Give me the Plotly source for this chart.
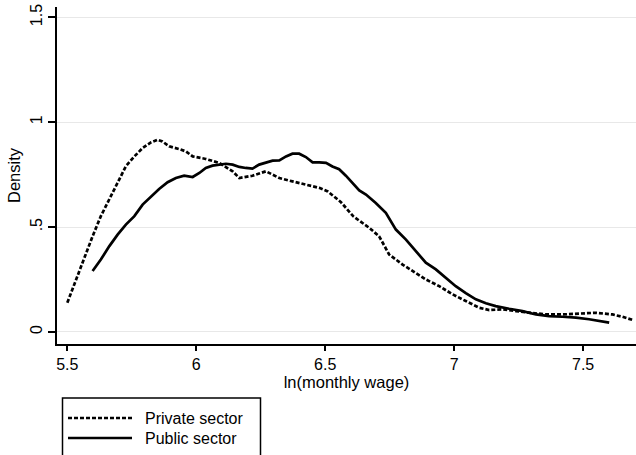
import plotly.graph_objects as go

# Kernel density of ln(monthly wage)
private_x = [5.50, 5.534, 5.566, 5.598, 5.630, 5.663, 5.695, 5.727, 5.76, 5.792, 5.824, 5.85, 5.869,
             5.895, 5.934, 5.96, 5.986, 6.037, 6.089, 6.141, 6.167, 6.218, 6.27, 6.322, 6.373, 6.425,
             6.477, 6.51, 6.56, 6.61, 6.671, 6.709, 6.748, 6.80, 6.851, 6.89, 6.942, 6.994, 7.045,
             7.097, 7.136, 7.187, 7.239, 7.291, 7.355, 7.42, 7.484, 7.549, 7.614, 7.652, 7.691]
private_y = [0.139, 0.25, 0.361, 0.456, 0.552, 0.631, 0.710, 0.790, 0.837, 0.877, 0.904, 0.917, 0.908,
             0.885, 0.872, 0.861, 0.837, 0.825, 0.806, 0.766, 0.734, 0.745, 0.766, 0.734, 0.718, 0.702,
             0.687, 0.67, 0.62, 0.55, 0.496, 0.456, 0.369, 0.321, 0.282, 0.25, 0.218, 0.179, 0.147,
             0.115, 0.104, 0.107, 0.099, 0.091, 0.083, 0.083, 0.088, 0.091, 0.083, 0.072, 0.057]

public_x = [5.598, 5.630, 5.663, 5.695, 5.727, 5.76, 5.792, 5.824, 5.856, 5.889, 5.921, 5.953, 5.986,
            6.012, 6.037, 6.063, 6.089, 6.115, 6.141, 6.167, 6.192, 6.218, 6.244, 6.27, 6.296, 6.322,
            6.348, 6.373, 6.399, 6.425, 6.451, 6.477, 6.503, 6.528, 6.554, 6.58, 6.606, 6.632, 6.658,
            6.696, 6.735, 6.774, 6.813, 6.851, 6.89, 6.929, 6.968, 7.006, 7.045, 7.084, 7.123, 7.161,
            7.213, 7.265, 7.317, 7.368, 7.42, 7.472, 7.523, 7.562, 7.601]
public_y = [0.290, 0.345, 0.409, 0.464, 0.512, 0.552, 0.607, 0.647, 0.682, 0.714, 0.734, 0.745, 0.739,
            0.758, 0.782, 0.793, 0.798, 0.802, 0.798, 0.787, 0.782, 0.779, 0.798, 0.809, 0.817, 0.818,
            0.837, 0.850, 0.850, 0.834, 0.809, 0.809, 0.806, 0.789, 0.776, 0.745, 0.71, 0.675, 0.655,
            0.615, 0.568, 0.488, 0.440, 0.385, 0.33, 0.298, 0.258, 0.218, 0.185, 0.155, 0.136, 0.123,
            0.110, 0.099, 0.083, 0.075, 0.072, 0.068, 0.060, 0.053, 0.044]

series_names = ["Private sector", "Public sector"]
series_dash = ["4px,2px", "solid"]

x_ticks = [5.5, 6, 6.5, 7, 7.5]
x_tick_labels = ["5.5", "6", "6.5", "7", "7.5"]
y_ticks = [0, 0.5, 1, 1.5]
y_tick_labels = ["0", ".5", "1", "1.5"]

FONT = "Liberation Sans, Arial, sans-serif"
W, H = 636, 455
ML, MR, MT, MB = 57, 0, 7, 111
PW, PH = W - ML - MR, H - MT - MB


def px_to_paper(px, py):
    return (px - ML) / PW, (H - MB - py) / PH


fig = go.Figure()
for name, xs, ys, dash in zip(series_names, [private_x, public_x], [private_y, public_y], series_dash):
    fig.add_trace(go.Scatter(x=xs, y=ys, mode="lines", name=name, showlegend=False,
                             line=dict(color="black", width=2.7, dash=dash)))

# Legend box (Stata-style, drawn below the plot)
shapes = []
annotations = []
bx0, by0 = px_to_paper(62.5, 398)
bx1, by1 = px_to_paper(260.5, 458)
shapes.append(dict(type="rect", xref="paper", yref="paper", x0=bx0, y0=by1, x1=bx1, y1=by0,
                   line=dict(color="black", width=1.5), fillcolor="white", layer="above"))
for i, (name, dash) in enumerate(zip(series_names, series_dash)):
    ly = 418 + 20 * i
    lx0, lyp = px_to_paper(68, ly)
    lx1, _ = px_to_paper(132, ly)
    shapes.append(dict(type="line", xref="paper", yref="paper", x0=lx0, x1=lx1, y0=lyp, y1=lyp,
                       line=dict(color="black", width=2.7, dash=dash), layer="above"))
    tx, ty = px_to_paper(143, ly)
    annotations.append(dict(x=tx, y=ty, xref="paper", yref="paper", text=name, showarrow=False,
                            xanchor="left", yanchor="middle", font=dict(size=16, color="black")))

fig.update_layout(
    width=W, height=H,
    margin=dict(l=ML, r=MR, t=MT, b=MB, autoexpand=False),
    paper_bgcolor="white", plot_bgcolor="white",
    font=dict(family=FONT, size=16, color="black"),
    showlegend=False,
    shapes=shapes, annotations=annotations,
)
fig.update_xaxes(range=[5.460, 7.705], tickvals=x_ticks, ticktext=x_tick_labels, automargin=False,
                 showgrid=False, zeroline=False, showline=True, linecolor="black", linewidth=1.5,
                 ticks="outside", ticklen=5, tickcolor="black", tickwidth=1.5,
                 title=dict(text="ln(monthly wage)", standoff=2, font=dict(size=16.5)))
fig.update_yaxes(range=[-0.058, 1.55], tickvals=y_ticks, ticktext=y_tick_labels, tickangle=-90,
                 automargin=False,
                 showgrid=True, gridcolor="#e8e8e8", gridwidth=1.2, zeroline=False,
                 showline=True, linecolor="black", linewidth=1.5,
                 ticks="outside", ticklen=7, tickcolor="black", tickwidth=1.5,
                 title=dict(text="Density", standoff=3, font=dict(size=16.5)))

fig.write_html("out.html", config={"displayModeBar": False},
               post_script="document.body.style.margin='0';document.body.style.overflow='hidden';")
